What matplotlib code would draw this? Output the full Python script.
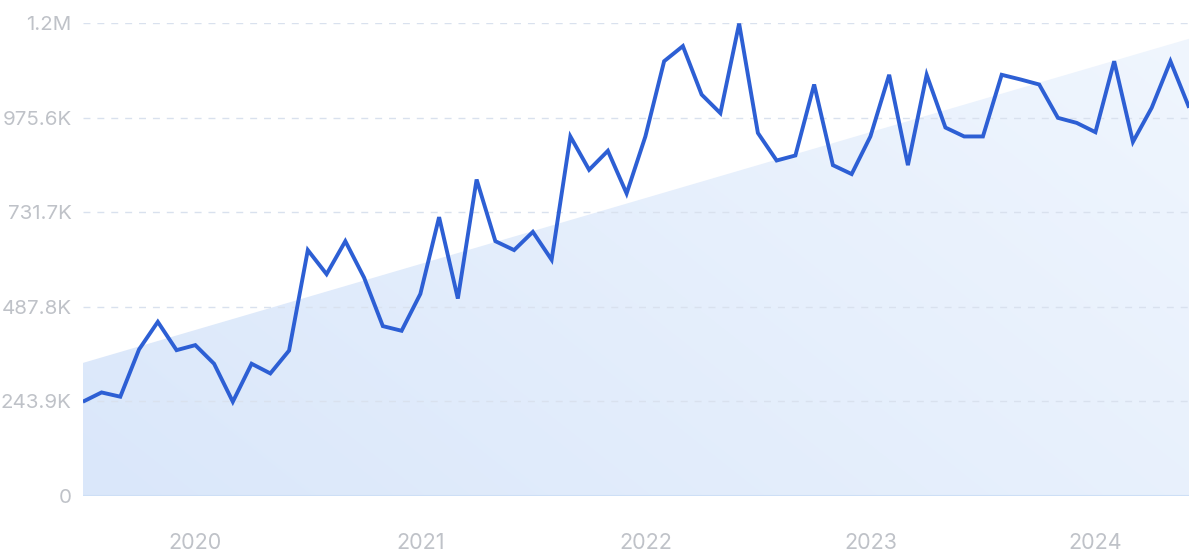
import numpy as np
import matplotlib
matplotlib.use("Agg")
import matplotlib.pyplot as plt
from matplotlib.patches import Polygon
from matplotlib.colors import to_rgb

# ---- data (monthly, Jul 2019 .. Jun 2024) ----
months = np.arange(60)  # month index, 0 = Jul 2019
values = [
    243e3, 267e3, 256e3, 378e3, 449e3, 376e3, 389e3, 341e3, 243e3, 341e3,
    316e3, 375e3, 634e3, 572e3, 657e3, 563e3, 438e3, 426e3, 521e3, 719e3,
    509e3, 816e3, 657e3, 634e3, 681e3, 609e3, 927e3, 841e3, 890e3, 780e3,
    927e3, 1121e3, 1160e3, 1035e3, 987e3, 1218e3, 936e3, 865e3, 878e3, 1061e3,
    853e3, 830e3, 927e3, 1086e3, 853e3, 1086e3, 950e3, 927e3, 927e3, 1086e3,
    1074e3, 1061e3, 975e3, 962e3, 938e3, 1121e3, 913e3, 1001e3, 1121e3, 1001e3,
]
trend_start = 343e3
trend_end = 1179e3
year_labels = ["2020", "2021", "2022", "2023", "2024"]
year_ticks = [6, 18, 30, 42, 54]
y_ticks = [0, 243.9e3, 487.8e3, 731.7e3, 975.6e3, 1219.5e3]
y_labels = ["0", "243.9K", "487.8K", "731.7K", "975.6K", "1.2M"]

LINE = "#2d5fd4"
TXT = "#bfc2c8"
GRID = "#d9e1ee"

fig = plt.figure(figsize=(12, 5.6), dpi=100)
ax = fig.add_axes([0.069, 0.1143, 0.922, 0.8446])
x0, x1 = months[0], months[-1]
ax.set_xlim(x0, x1)
ax.set_ylim(0, y_ticks[-1])

# gradient-filled trend area
poly = Polygon([[x0, 0], [x0, trend_start], [x1, trend_end], [x1, 0]],
               closed=True, facecolor="none", edgecolor="none")
ax.add_patch(poly)
c0 = np.array(to_rgb("#dae7fa"))
c1 = np.array(to_rgb("#f0f6fe"))
gx, gy = np.meshgrid(np.linspace(0, 1, 300), np.linspace(0, 1, 150))
t = np.clip(0.65 * gx + 0.35 * gy, 0, 1)[..., None]
img = c0 * (1 - t) + c1 * t
im = ax.imshow(img, extent=[x0, x1, 0, y_ticks[-1]], origin="lower",
               aspect="auto", zorder=1, interpolation="bilinear")
im.set_clip_path(poly)

# grid
for yv in y_ticks[1:]:
    ax.axhline(yv, color=GRID, lw=1.0, ls=(0, (5, 5)), zorder=2)
ax.axhline(0, color="#cddff6", lw=1.5, zorder=2)

ax.plot(months, values, color=LINE, lw=2.8, solid_joinstyle="miter",
        solid_capstyle="butt", zorder=3)

for s in ax.spines.values():
    s.set_visible(False)
ax.set_yticks(y_ticks)
ax.set_yticklabels(y_labels)
ax.set_xticks(year_ticks)
ax.set_xticklabels(year_labels)
ax.tick_params(axis="x", length=0, colors=TXT, labelsize=15.5, pad=27)
ax.tick_params(axis="y", length=0, colors=TXT, labelsize=14.8, pad=8)
for lab in ax.get_xticklabels() + ax.get_yticklabels():
    lab.set_fontfamily("Inter")
    lab.set_color(TXT)

fig.savefig("out.png", dpi=100, facecolor="white")
